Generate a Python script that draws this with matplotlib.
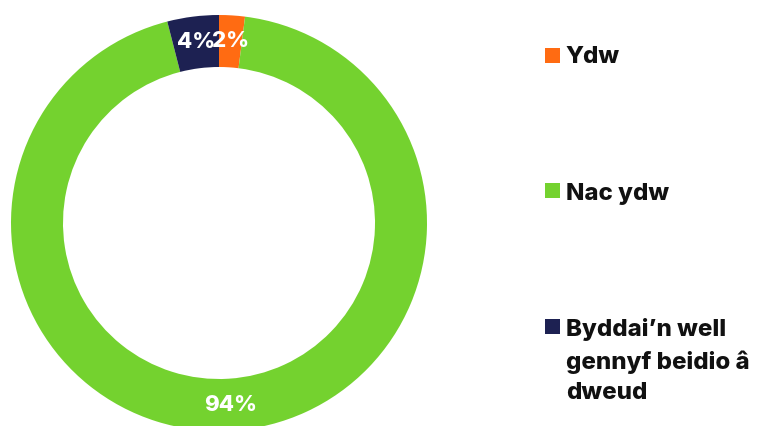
import matplotlib
matplotlib.use("Agg")
import matplotlib.pyplot as plt
from matplotlib.patches import Rectangle
import numpy as np

labels = ["Ydw", "Nac ydw", "Byddai\u2019n well\ngennyf beidio \u00e2\ndweud"]
values = [2, 94, 4]
pct_labels = ["2%", "94%", "4%"]
colors = ["#FF6B12", "#74D22F", "#1D2152"]

W, H = 759, 426
fig = plt.figure(figsize=(W / 100, H / 100), dpi=100)
plt.rcParams['font.family'] = ['Inter', 'DejaVu Sans']

# donut: center (219, 223) px, radius 208 px
cx, cy, r = 219, 223, 208
ax = fig.add_axes([(cx - r) / W, (H - cy - r) / H, 2 * r / W, 2 * r / H])
wedges, _ = ax.pie(values, colors=colors, startangle=90, counterclock=False,
                   radius=1, wedgeprops=dict(width=0.25, linewidth=0))
ax.set_xlim(-1, 1)
ax.set_ylim(-1, 1)
ax.set_aspect('equal')
ax.axis('off')

for w, lab in zip(wedges, pct_labels):
    ang = np.deg2rad((w.theta1 + w.theta2) / 2)
    rr = 0.875
    ax.text(rr * np.cos(ang), rr * np.sin(ang), lab, ha='center', va='center',
            color='white', fontsize=16, fontweight='heavy')

# legend
sq_centers = [55.5, 190.5, 326]
text_tops = [47, 184, 319]
for lab, col, yc, yt in zip(labels, colors, sq_centers, text_tops):
    s = 15
    fig.add_artist(Rectangle(((545) / W, (H - yc - s / 2) / H), s / W, s / H,
                             transform=fig.transFigure, facecolor=col, edgecolor='none'))
    fig.text(566 / W, (H - yt + 1) / H, lab, ha='left', va='top', fontsize=17.3,
             fontweight='heavy', color='#111111', linespacing=1.5)

fig.savefig("out.png", dpi=100, facecolor='white')
